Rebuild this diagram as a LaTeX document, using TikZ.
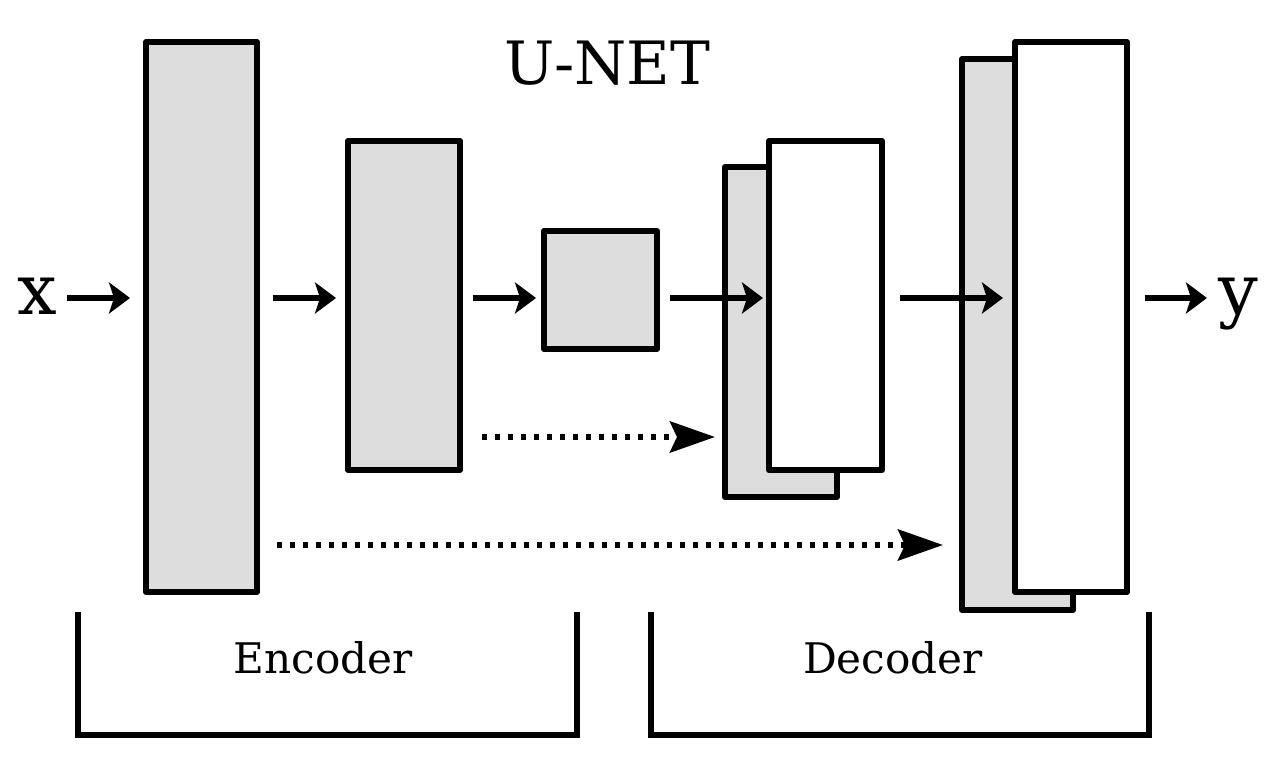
\documentclass[tikz,border=0pt]{standalone}
\usepackage{fontspec}
\setmainfont{DejaVu Serif}
\usetikzlibrary{arrows.meta}
\definecolor{blockgray}{RGB}{221,221,221}
\tikzset{
  block/.style={draw=black, line width=0.125cm, fill=blockgray, rectangle, inner sep=0pt, outer sep=0pt, line join=round},
  wblock/.style={block, fill=white},
  arr/.style={line width=0.12cm, -{Stealth[length=0.42cm, width=0.62cm, inset=0.1cm]}},
  darr/.style={line width=0.12cm, dash pattern=on 0.1cm off 0.16cm, -{Stealth[length=0.9cm, width=0.62cm, inset=0.14cm]}},
  brace/.style={line width=0.125cm, line cap=butt, line join=miter},
  lbl/.style={inner sep=0pt, outer sep=0pt, anchor=base}
}
\begin{document}
\begin{tikzpicture}[x=0.02cm, y=-0.02cm]
\useasboundingbox[fill=white] (0,0) rectangle (1275,763);
% blocks
\node[block, minimum width=2.22cm, minimum height=11cm] (b1) at (201.5,317) {};
\node[block, minimum width=2.24cm, minimum height=6.58cm] (b2) at (404,305.5) {};
\node[block, minimum width=2.26cm, minimum height=2.36cm] (b3) at (600.5,290) {};
\node[block, minimum width=2.24cm, minimum height=6.6cm] (b4b) at (781,332) {};
\node[wblock, minimum width=2.26cm, minimum height=6.58cm] (b4) at (825.5,305.5) {};
\node[block, minimum width=2.22cm, minimum height=11.02cm] (b5b) at (1017.5,334.5) {};
\node[wblock, minimum width=2.24cm, minimum height=11cm] (b5) at (1071,317) {};
% labels
\node[lbl, font=\fontsize{34}{40}\selectfont] (title) at (607.5,85) {U-NET};
\node[lbl, font=\fontsize{40}{46}\selectfont] (xin) at (37,315) {x};
\node[lbl, font=\fontsize{40}{46}\selectfont] (yout) at (1238,315) {y};
\node[lbl, font=\fontsize{24}{28}\selectfont] (enc) at (323,673) {Encoder};
\node[lbl, font=\fontsize{24}{28}\selectfont] (dec) at (893,673) {Decoder};
% solid arrows
\coordinate (xs) at (67,298);
\coordinate (ye) at (1207,298);
\draw[arr] (xs) -- (b1.west|-xs) [shorten >=0.32cm];
\draw[arr, shorten <=0.32cm, shorten >=0.24cm] (b1.east|-xs) -- (b2.west|-xs);
\draw[arr, shorten <=0.26cm, shorten >=0.16cm] (b2.east|-xs) -- (b3.west|-xs);
\draw[arr, shorten <=0.26cm, shorten >=0.12cm] (b3.east|-xs) -- (b4.west|-xs);
\draw[arr, shorten <=0.36cm, shorten >=0.24cm] (b4.east|-xs) -- (b5.west|-xs);
\draw[arr, shorten <=0.36cm] (b5.east|-xs) -- (ye);
% skip connections
\coordinate (s1) at (0,437);
\coordinate (s2) at (0,545);
\draw[darr, shorten <=0.44cm, shorten >=0.2cm] (b2.east|-s1) -- (b4b.west|-s1);
\draw[darr, shorten <=0.4cm, shorten >=0.38cm] (b1.east|-s2) -- (b5b.west|-s2);
% brackets
\draw[brace] (78,612) -- (78,735) -- (577,735) -- (577,612);
\draw[brace] (651,612) -- (651,735) -- (1149,735) -- (1149,612);
\end{tikzpicture}
\end{document}
